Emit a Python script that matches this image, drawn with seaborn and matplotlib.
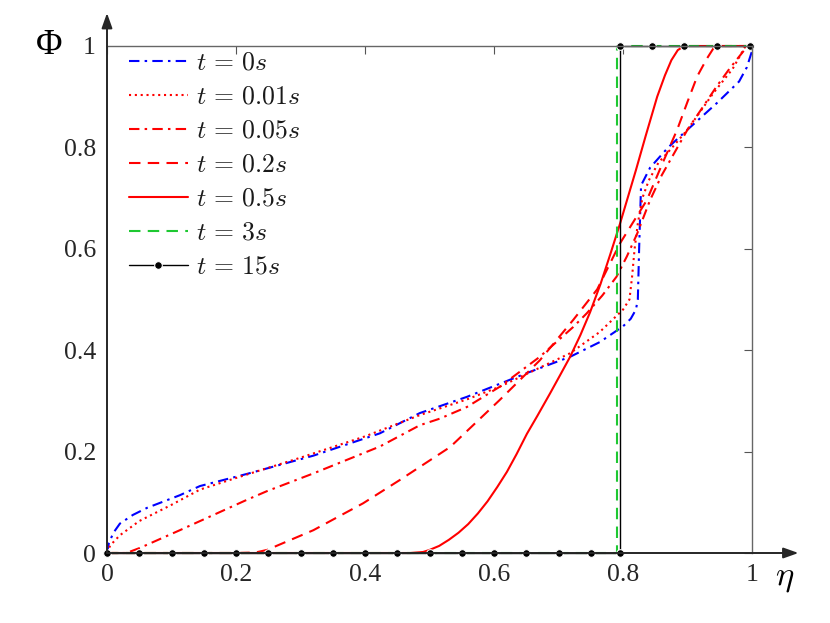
import numpy as np
import pandas as pd
import matplotlib
matplotlib.use("Agg")
import matplotlib.pyplot as plt
import seaborn as sns

# ---------------------------------------------
# Data
# ---------------------------------------------

# t = 0s
x_t0 = [0, 0.003, 0.01, 0.02, 0.04, 0.062, 0.113, 0.144, 0.217, 0.32, 0.423,
        0.485, 0.558, 0.651, 0.718, 0.764, 0.8, 0.812, 0.82, 0.823, 0.825, 0.828,
        0.842, 0.87, 0.9, 0.946, 0.98, 0.992, 1.0]
y_t0 = [0, 0.02, 0.04, 0.058, 0.075, 0.089, 0.114, 0.132, 0.156, 0.192, 0.236,
        0.276, 0.308, 0.355, 0.387, 0.416, 0.447, 0.462, 0.48, 0.5, 0.6, 0.725,
        0.76, 0.8, 0.835, 0.888, 0.93, 0.958, 0.99]

# t = 0.01s
x_t001 = [0, 0.005, 0.02, 0.05, 0.1, 0.144, 0.2, 0.3, 0.4, 0.485, 0.558, 0.609,
          0.718, 0.764, 0.8, 0.81, 0.814, 0.818, 0.823, 0.83, 0.84, 0.855, 0.873,
          0.9, 0.94, 0.97, 0.99]
y_t001 = [0, 0.015, 0.035, 0.063, 0.095, 0.125, 0.148, 0.188, 0.23, 0.272, 0.303, 0.328,
          0.394, 0.436, 0.48, 0.5, 0.544, 0.6, 0.65, 0.7, 0.735, 0.77, 0.795,
          0.835, 0.907, 0.955, 1.0]

# t = 0.05s
x_t005 = [0, 0.03, 0.051, 0.113, 0.217, 0.248, 0.32, 0.423, 0.485, 0.516, 0.558,
          0.609, 0.671, 0.723, 0.744, 0.768, 0.79, 0.806, 0.822, 0.842, 0.86,
          0.88, 0.9, 0.924, 0.945, 0.965, 0.99]
y_t005 = [0, 0, 0.01, 0.045, 0.105, 0.122, 0.157, 0.21, 0.252, 0.265, 0.288,
          0.328, 0.387, 0.446, 0.473, 0.508, 0.545, 0.585, 0.63, 0.696, 0.745,
          0.79, 0.835, 0.88, 0.92, 0.955, 0.995]

# t = 0.2s
x_t02 = [0, 0.2, 0.23, 0.248, 0.32, 0.397, 0.454, 0.532, 0.609, 0.671, 0.723,
         0.76, 0.795, 0.837, 0.86, 0.884, 0.9, 0.915, 0.93, 0.94, 0.95, 1.0]
y_t02 = [0, 0, 0.001, 0.006, 0.045, 0.098, 0.144, 0.209, 0.302, 0.38, 0.46,
         0.52, 0.61, 0.696, 0.765, 0.835, 0.89, 0.94, 0.975, 0.995, 1.0, 1.0]

# t = 0.5s
x_t05 = [0, 0.47, 0.49, 0.5, 0.515, 0.53, 0.545, 0.56, 0.575, 0.59, 0.605, 0.62,
         0.635, 0.651, 0.667, 0.687, 0.703, 0.718, 0.734, 0.749, 0.765, 0.78,
         0.795, 0.806, 0.82, 0.835, 0.853, 0.865, 0.875, 0.885, 0.895, 1.0]
y_t05 = [0, 0, 0.002, 0.006, 0.014, 0.026, 0.04, 0.057, 0.078, 0.102, 0.13, 0.16,
         0.195, 0.235, 0.27, 0.315, 0.352, 0.387, 0.43, 0.475, 0.53, 0.588,
         0.648, 0.695, 0.755, 0.822, 0.9, 0.942, 0.972, 0.992, 1.0, 1.0]

# t = 3s
x_t3 = [0, 0.79, 0.79, 1.0]
y_t3 = [0, 0, 1, 1]

# t = 15s
x_t15 = [0, 0.05, 0.1, 0.15, 0.2, 0.25, 0.3, 0.35, 0.4, 0.45, 0.5, 0.55, 0.6,
         0.65, 0.7, 0.75, 0.795, 0.795, 0.845, 0.895, 0.945, 0.997]
y_t15 = [0] * 17 + [1] * 5

labels = ["$t\\,=\\,0s$", "$t\\,=\\,0.01s$", "$t\\,=\\,0.05s$", "$t\\,=\\,0.2s$",
          "$t\\,=\\,0.5s$", "$t\\,=\\,3s$", "$t\\,=\\,15s$"]
tick_vals = [0, 0.2, 0.4, 0.6, 0.8, 1]
tick_labels = ["0", "0.2", "0.4", "0.6", "0.8", "1"]

# ---------------------------------------------
# Style
# ---------------------------------------------
sns.set_style("white")
plt.rcParams['font.family'] = ['Liberation Serif', 'DejaVu Serif']
plt.rcParams['mathtext.fontset'] = 'cm'

series = [
    (x_t0, y_t0, dict(color='#0000ff', linestyle=(0, (5, 2.5, 1.2, 2.5)), lw=1.5)),
    (x_t001, y_t001, dict(color='#ff0000', linestyle=(0, (1, 1.8)), lw=1.5)),
    (x_t005, y_t005, dict(color='#ff0000', linestyle=(0, (5, 2.5, 1.2, 2.5)), lw=1.5)),
    (x_t02, y_t02, dict(color='#ff0000', linestyle=(0, (5.5, 3.5)), lw=1.5)),
    (x_t05, y_t05, dict(color='#ff0000', linestyle='-', lw=1.5)),
    (x_t3, y_t3, dict(color='#1ec832', linestyle=(0, (5.5, 3.5)), lw=1.5)),
    (x_t15, y_t15, dict(color='black', linestyle='-', lw=1.0,
                        marker='o', markersize=5.5)),
]

fig = plt.figure(figsize=(8.3, 6.23), dpi=100)
ax = fig.add_axes([107 / 830, 1 - 553 / 623, 645 / 830, 507 / 623])

for (xs, ys, kw), lab in zip(series, labels):
    df = pd.DataFrame({'eta': xs, 'phi': ys})
    sns.lineplot(data=df, x='eta', y='phi', ax=ax, estimator=None, sort=False,
                 label=lab, clip_on=False, **kw)

ax.set_xlim(0, 1)
ax.set_ylim(0, 1)
ax.set_xticks(tick_vals)
ax.set_xticklabels(tick_labels)
ax.set_yticks(tick_vals)
ax.set_yticklabels(tick_labels)
ax.set_xlabel("")
ax.set_ylabel("")

ax.tick_params(direction='in', top=True, right=True, length=6, width=0.8,
               color='#555555', labelsize=18.5, labelcolor='#262626', pad=8)

for side in ['top', 'right']:
    ax.spines[side].set_color('#666666')
    ax.spines[side].set_linewidth(1.0)
for side in ['left', 'bottom']:
    ax.spines[side].set_visible(False)

# axis arrows
arrow = dict(arrowstyle='-|>,head_length=0.9,head_width=0.32', color='#262626',
             lw=1.4, shrinkA=0, shrinkB=0)
ax.annotate('', xy=(1.072, 0), xytext=(0, 0), xycoords='axes fraction',
            textcoords='axes fraction', arrowprops=arrow, annotation_clip=False)
ax.annotate('', xy=(0, 1.065), xytext=(0, 0), xycoords='axes fraction',
            textcoords='axes fraction', arrowprops=arrow, annotation_clip=False)

fig.text(49 / 830, 1 - 45 / 623, "Φ", fontsize=26, ha='center', va='center',
         color='black')
fig.text(785 / 830, 1 - 578 / 623, r"$\eta$", fontsize=25, ha='center', va='center',
         color='black')

leg = ax.legend(loc='upper left', bbox_to_anchor=(0.012, 1.017), frameon=False,
                fontsize=18.5, handlelength=2.3, handletextpad=0.3,
                labelspacing=0.43, borderaxespad=0.15)
for txt in leg.get_texts():
    txt.set_color('#1a1a1a')

plt.savefig("out.png", dpi=100)
